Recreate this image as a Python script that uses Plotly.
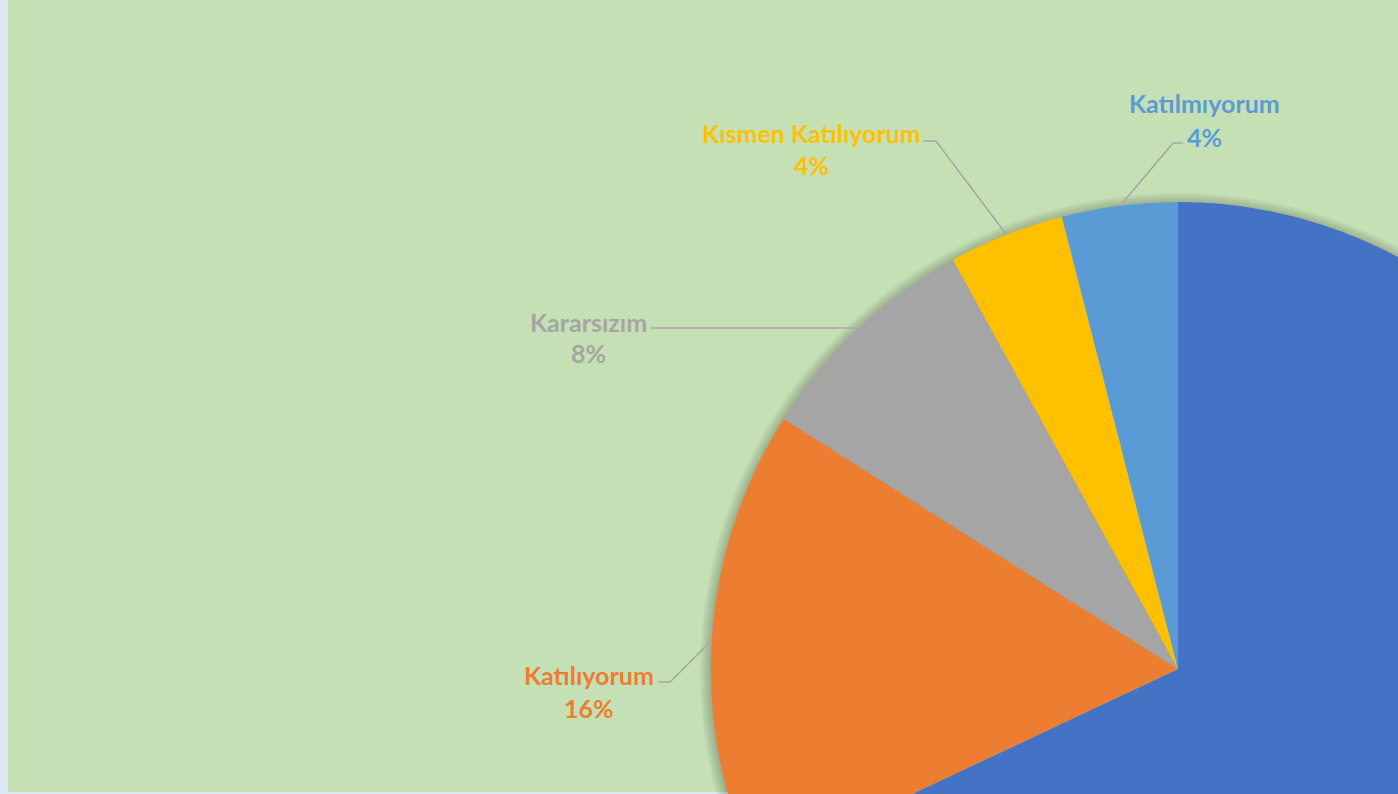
import plotly.graph_objects as go

labels = ["Kesinlikle Katılıyorum", "Katılıyorum", "Kararsızım", "Kısmen Katılıyorum", "Katılmıyorum"]
values = [68, 16, 8, 4, 4]
colors = ["#4472C4", "#ED7D31", "#A5A5A5", "#FFC000", "#5B9BD5"]

W, H = 1700, 1200
CX, CY, R = 1178, 669, 467

def px(x):
    return x / W

def py(y):
    return 1 - y / H

fig = go.Figure(go.Pie(
    labels=labels, values=values, sort=False, direction="clockwise", rotation=0,
    marker=dict(colors=colors, line=dict(width=0)),
    textinfo="none", hoverinfo="label+percent", showlegend=False,
    domain=dict(x=[px(CX - R), px(CX + R)], y=[py(CY + R), py(CY - R)]),
))

total = sum(values)
pct = [f"{round(v / total * 100)}%" for v in values]

# label layout: (index, name center x, name y, pct y, leader polyline)
label_pos = {
    4: (1204, 103, 137, [(1183, 143), (1173, 143), (1120, 206)]),
    3: (811, 133, 165, [(923, 141), (936, 141), (1006, 234)]),
    2: (588, 322, 353, [(651, 328), (857, 328)]),
    1: (589, 675, 708, [(658, 682), (670, 682), (712, 640)]),
}

shapes = []
# background: light blue border strips and green chart area
shapes.append(dict(type="rect", xref="paper", yref="paper", x0=px(8), x1=1, y0=py(792), y1=1,
                   fillcolor="#C5E0B4", line=dict(width=0), layer="below"))
# soft shadow around pie
for i in range(6):
    rr = R + 1 + i * 2
    shapes.append(dict(type="circle", xref="paper", yref="paper",
                       x0=px(CX - rr), x1=px(CX + rr), y0=py(CY + rr + 2), y1=py(CY - rr + 2),
                       fillcolor="rgba(0,0,0,0.04)", line=dict(width=0), layer="below"))

annotations = []
for idx, (lx, ny, pyy, pts) in label_pos.items():
    col = colors[idx]
    annotations.append(dict(x=px(lx), y=py(ny), xref="paper", yref="paper", text=labels[idx],
                            showarrow=False, xanchor="center", yanchor="middle",
                            font=dict(family="Lato", size=25, color=col, weight="bold")))
    annotations.append(dict(x=px(lx), y=py(pyy), xref="paper", yref="paper", text=pct[idx],
                            showarrow=False, xanchor="center", yanchor="middle",
                            font=dict(family="Lato", size=25, color=col, weight="bold")))
    path = "M " + " L ".join(f"{px(x)},{py(y)}" for x, y in pts)
    shapes.append(dict(type="path", xref="paper", yref="paper", path=path,
                       line=dict(color="#A6A6A6", width=1.5), layer="above"))

fig.update_layout(
    width=W, height=H, margin=dict(l=0, r=0, t=0, b=0),
    paper_bgcolor="#DDE8F5", plot_bgcolor="#DDE8F5",
    shapes=shapes, annotations=annotations,
)

fig.write_html("out.html", post_script="document.documentElement.style.overflow='hidden';document.body.style.overflow='hidden';document.body.style.margin='0';")
